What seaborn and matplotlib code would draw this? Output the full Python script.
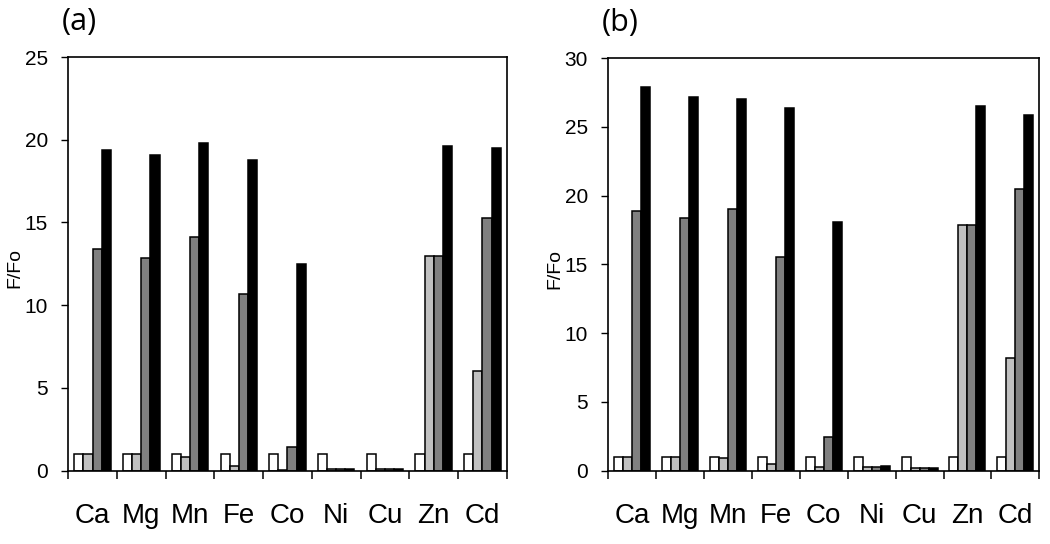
import numpy as np
import pandas as pd
import seaborn as sns
import matplotlib.pyplot as plt

# Metal ions on the x axis
metals = ["Ca", "Mg", "Mn", "Fe", "Co", "Ni", "Cu", "Zn", "Cd"]
series = ["s1", "s2", "s3", "s4"]
colors = ["white", "#c0c0c0", "#808080", "black"]

# Panel (a) F/Fo values
a_s1 = [1.0, 1.0, 1.0, 1.0, 1.0, 1.0, 1.0, 1.0, 1.0]
a_s2 = [1.0, 1.0, 0.85, 0.25, 0.05, 0.1, 0.08, 13.0, 6.05]
a_s3 = [13.4, 12.85, 14.15, 10.65, 1.4, 0.1, 0.08, 13.0, 15.3]
a_s4 = [19.4, 19.1, 19.8, 18.8, 12.5, 0.1, 0.08, 19.6, 19.5]

# Panel (b)
b_s1 = [1.0, 1.0, 1.0, 1.0, 1.0, 1.0, 1.0, 1.0, 1.0]
b_s2 = [1.0, 1.0, 0.9, 0.5, 0.25, 0.25, 0.2, 17.9, 8.2]
b_s3 = [18.85, 18.4, 19.05, 15.55, 2.45, 0.25, 0.2, 17.9, 20.5]
b_s4 = [27.9, 27.2, 27.05, 26.4, 18.05, 0.3, 0.2, 26.5, 25.9]


def to_long(cols):
    rows = []
    for name, vals in zip(series, cols):
        for m, v in zip(metals, vals):
            rows.append({"metal": m, "series": name, "val": v})
    return pd.DataFrame(rows)


df_a = to_long([a_s1, a_s2, a_s3, a_s4])
df_b = to_long([b_s1, b_s2, b_s3, b_s4])

sns.set_style("white")
plt.rcParams['font.family'] = ['Liberation Sans', 'DejaVu Sans']
plt.rcParams['text.color'] = 'black'
plt.rcParams['axes.labelcolor'] = 'black'
plt.rcParams['xtick.color'] = 'black'
plt.rcParams['ytick.color'] = 'black'

fig = plt.figure(figsize=(10.5, 5.44), dpi=100)
ax_a = fig.add_axes([0.065, 0.135, 0.4176, 0.760])
ax_b = fig.add_axes([0.5793, 0.135, 0.4105, 0.758])

panels = [(ax_a, df_a, 25, "(a)"), (ax_b, df_b, 30, "(b)")]

for ax, df, ymax, tag in panels:
    sns.barplot(data=df, x="metal", y="val", hue="series", hue_order=series,
                palette=colors, edgecolor="black", linewidth=1.1, width=0.75,
                gap=0, errorbar=None, legend=False, ax=ax)
    ax.set_xlim(-0.5, 8.5)
    ax.set_ylim(0, ymax)
    ax.set_yticks(np.arange(0, ymax + 1, 5))
    ax.set_xticks(range(len(metals)))
    ax.set_xticklabels(metals, fontsize=20)
    ax.set_xticks(np.arange(-0.5, 9, 1), minor=True)
    ax.tick_params(axis='x', which='major', length=0, pad=23)
    ax.tick_params(axis='x', which='minor', length=6, width=1.1, direction='out',
                   bottom=True)
    ax.tick_params(axis='y', length=4.7, width=1, direction='out',
                   left=True, labelsize=15, pad=10)
    for s in ax.spines.values():
        s.set_color('black')
        s.set_linewidth(1.2)
    ax.set_xlabel("")
    ax.set_ylabel("F/Fo", fontsize=14)
    ax.yaxis.set_label_coords(-0.103, 0.49)
    ax.text(-0.014, 1.085, tag, transform=ax.transAxes, fontsize=22,
            family=['Open Sans', 'DejaVu Sans'], ha='left', va='center')

fig.savefig("out.png", dpi=100)
